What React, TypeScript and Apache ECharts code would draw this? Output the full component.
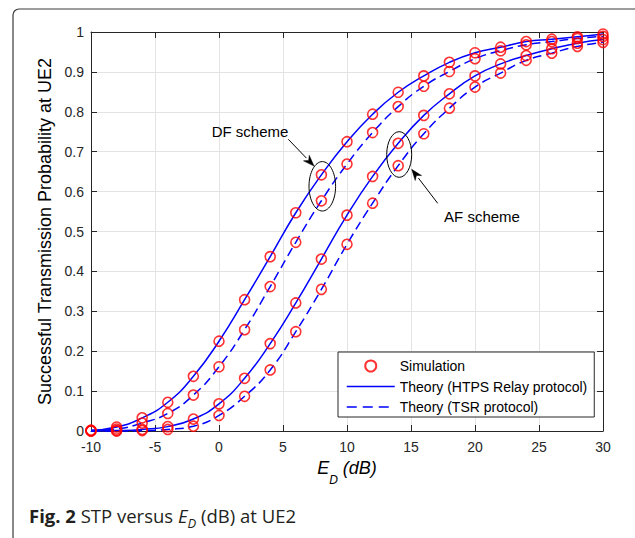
import React, { useEffect, useRef } from "react";
import * as echarts from "echarts";

// E_D (dB) sample points
const snrDb = [-10, -8, -6, -4, -2, 0, 2, 4, 6, 8, 10, 12, 14, 16, 18, 20, 22, 24, 26, 28, 30];
// DF scheme
const dfHtps = [0.002, 0.01, 0.033, 0.072, 0.137, 0.225, 0.329, 0.437, 0.547, 0.642, 0.725, 0.794, 0.849, 0.89, 0.924, 0.948, 0.962, 0.976, 0.982, 0.988, 0.995];
const dfTsr = [0.001, 0.005, 0.02, 0.044, 0.09, 0.161, 0.254, 0.362, 0.473, 0.577, 0.669, 0.748, 0.813, 0.864, 0.901, 0.933, 0.953, 0.968, 0.976, 0.984, 0.989];
// AF scheme
const afHtps = [0.0, 0.001, 0.004, 0.011, 0.03, 0.068, 0.132, 0.219, 0.321, 0.431, 0.541, 0.638, 0.721, 0.791, 0.845, 0.89, 0.92, 0.941, 0.958, 0.972, 0.981];
const afTsr = [0.0, 0.0, 0.001, 0.004, 0.012, 0.039, 0.087, 0.153, 0.249, 0.355, 0.468, 0.571, 0.665, 0.745, 0.809, 0.862, 0.897, 0.929, 0.947, 0.964, 0.974];

const xMin = -10, xMax = 30, xStep = 5;
const yMin = 0, yMax = 1, yStep = 0.1;

const legendNames = ["Simulation", "Theory (HTPS Relay protocol)", "Theory (TSR protocol)"];
const yAxisTitle = "Successful Transmission Probability at UE2";

const FONT = '"Liberation Sans", Arial, Helvetica, sans-serif';
const CAPTION_FONT = '"Open Sans", "Noto Sans", sans-serif';
const BLUE = "#0000ff";
const RED = "#ff0000";
const DASH = [9, 5];

const pairs = (ys: number[]) => snrDb.map((x, i) => [x, ys[i]]);

function arrow(tail: number[], tip: number[]) {
  const dx = tip[0] - tail[0], dy = tip[1] - tail[1];
  const len = Math.hypot(dx, dy);
  const ux = dx / len, uy = dy / len;
  const hl = 11, hw = 4;
  const bx = tip[0] - ux * hl, by = tip[1] - uy * hl;
  const px = -uy, py = ux;
  return [
    { type: "line", z: 50, silent: true, shape: { x1: tail[0], y1: tail[1], x2: bx, y2: by }, style: { stroke: "#000", lineWidth: 1 } },
    {
      type: "polygon", z: 50, silent: true,
      shape: { points: [[tip[0], tip[1]], [bx + px * hw, by + py * hw], [tip[0] - ux * hl * 0.7, tip[1] - uy * hl * 0.7], [bx - px * hw, by - py * hw]] },
      style: { fill: "#000", stroke: "#000", lineWidth: 0.5 },
    },
  ];
}

export default function App() {
  const ref = useRef<HTMLDivElement>(null);
  useEffect(() => {
    const chart = echarts.init(ref.current!, null, { renderer: "svg" });
    const line = (name: string, ys: number[], dashed: boolean) => ({
      type: "line",
      name,
      data: pairs(ys),
      smooth: 0.5,
      symbol: "none",
      clip: false,
      z: 2,
      lineStyle: { color: BLUE, width: 1.5, type: dashed ? DASH : "solid" },
      itemStyle: { color: "rgba(0,0,0,0)", borderWidth: 0 },
    });
    const axisCommon = {
      type: "value",
      axisLine: { show: true, onZero: false, lineStyle: { color: "#262626", width: 1 } },
      axisTick: { show: true, inside: true, length: 6, lineStyle: { color: "#262626" } },
    };
    const option: any = {
      animation: false,
      backgroundColor: "#ffffff",
      grid: { left: 91, right: 32, top: 32, bottom: 107, containLabel: false },
      xAxis: [
        {
          ...axisCommon,
          min: xMin, max: xMax, interval: xStep,
          position: "bottom",
          axisLabel: { color: "#262626", fontSize: 14, fontFamily: FONT, margin: 9 },
          splitLine: { show: true, lineStyle: { color: "#e3e3e3", width: 1 } },
          name: "{e|E}{d|D}{e| (dB)}",
          nameLocation: "middle",
          nameGap: 15,
          nameTextStyle: {
            fontFamily: FONT,
            rich: {
              e: { fontSize: 18, fontStyle: "italic", fontFamily: FONT, color: "#000", lineHeight: 36, verticalAlign: "middle" },
              d: { fontSize: 12, fontStyle: "italic", fontFamily: FONT, color: "#000", lineHeight: 12, verticalAlign: "bottom" },
            },
          },
        },
        {
          ...axisCommon,
          min: xMin, max: xMax, interval: xStep,
          position: "top",
          axisLabel: { show: false },
          splitLine: { show: false },
        },
      ],
      yAxis: [
        {
          ...axisCommon,
          min: yMin, max: yMax, interval: yStep,
          position: "left",
          axisLabel: { color: "#262626", fontSize: 14, fontFamily: FONT, margin: 7 },
          splitLine: { show: true, lineStyle: { color: "#e3e3e3", width: 1 } },
          name: yAxisTitle,
          nameLocation: "middle",
          nameGap: 33,
          nameRotate: 90,
          nameTextStyle: { fontSize: 18, fontFamily: FONT, color: "#000" },
        },
        {
          ...axisCommon,
          min: yMin, max: yMax, interval: yStep,
          position: "right",
          axisLabel: { show: false },
          splitLine: { show: false },
        },
      ],
      legend: {
        show: true,
        orient: "vertical",
        left: 338,
        top: 352,
        padding: [7, 7, 3, 8],
        itemGap: 6.5,
        itemWidth: 48,
        itemHeight: 11,
        borderColor: "#262626",
        borderWidth: 1,
        borderRadius: 0,
        backgroundColor: "#ffffff",
        textStyle: { fontFamily: FONT, fontSize: 14, color: "#000" },
        data: [
          { name: legendNames[0] },
          { name: legendNames[1], lineStyle: { color: BLUE, width: 1.5, type: "solid" } },
          { name: legendNames[2], lineStyle: { color: BLUE, width: 1.5, type: [10, 6] } },
        ],
      },
      series: [
        line(legendNames[1], dfHtps, false),
        line(legendNames[2], dfTsr, true),
        line(legendNames[1], afHtps, false),
        line(legendNames[2], afTsr, true),
        {
          type: "scatter",
          name: legendNames[0],
          data: [...pairs(dfHtps), ...pairs(dfTsr), ...pairs(afHtps), ...pairs(afTsr)],
          symbol: "circle",
          symbolSize: 10,
          clip: false,
          z: 5,
          itemStyle: { color: "rgba(0,0,0,0)", borderColor: RED, borderWidth: 1.6 },
        },
      ],
      graphic: [
        {
          type: "rect", z: -10, silent: true,
          shape: { x: 13, y: 9, width: 640, height: 600, r: 6 },
          style: { fill: "none", stroke: "#3a3a3a", lineWidth: 1.2 },
        },
        {
          type: "text", x: 29, y: 501, z: 50, silent: true,
          style: {
            text: "{b|Fig. 2} STP versus {i|E}{s|D} (dB) at UE2",
            fontFamily: CAPTION_FONT, fontSize: 18.5, lineHeight: 28, fill: "#231f20", verticalAlign: "top",
            rich: {
              b: { fontFamily: CAPTION_FONT, fontSize: 18.5, fontWeight: "bold", lineHeight: 28, verticalAlign: "middle", fill: "#231f20" },
              i: { fontFamily: CAPTION_FONT, fontSize: 18.5, fontStyle: "italic", lineHeight: 28, verticalAlign: "middle", fill: "#231f20" },
              s: { fontFamily: CAPTION_FONT, fontSize: 13, fontStyle: "italic", lineHeight: 10, verticalAlign: "bottom", fill: "#231f20" },
            },
          },
        },
        {
          type: "text", x: 250, y: 131, z: 50, silent: true,
          style: { text: "DF scheme", fontFamily: FONT, fontSize: 15, fill: "#000", align: "center", verticalAlign: "middle" },
        },
        {
          type: "text", x: 482, y: 216, z: 50, silent: true,
          style: { text: "AF scheme", fontFamily: FONT, fontSize: 15, fill: "#000", align: "center", verticalAlign: "middle" },
        },
        {
          type: "ellipse", z: 50, silent: true,
          shape: { cx: 322.3, cy: 186.3, rx: 13.3, ry: 24.7 },
          style: { fill: "none", stroke: "#000", lineWidth: 1 },
        },
        {
          type: "ellipse", z: 50, silent: true,
          shape: { cx: 399.2, cy: 154.5, rx: 12.5, ry: 22.8 },
          style: { fill: "none", stroke: "#000", lineWidth: 1 },
        },
        ...arrow([288.3, 139.3], [314, 166]),
        ...arrow([437.7, 203.3], [411.7, 169.3]),
      ],
    };
    chart.setOption(option);
    return () => chart.dispose();
  }, []);
  return <div ref={ref} style={{ position: "absolute", left: 0, top: 0, width: 635, height: 538 }} />;
}
